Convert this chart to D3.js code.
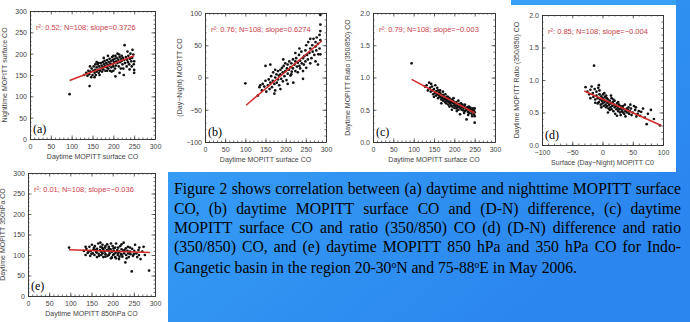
<!DOCTYPE html>
<html>
<head>
<meta charset="utf-8">
<script src="https://cdn.jsdelivr.net/npm/d3@7"></script>
<style>
  html, body { margin: 0; padding: 0; background: #fff; }
  svg { display: block; }
</style>
</head>
<body>
<script>
// --- Data ---
const ptsA = [[95,105],[143,124],[130,150],[135,155],[138,148],[140,160],[142,152],[145,158],[147,145],[148,165],
  [150,150],[152,160],[153,170],[155,155],[156,162],[158,150],[160,168],[160,158],[162,175],[163,162],
  [165,155],[166,170],[168,160],[170,178],[170,165],[172,172],[173,158],[175,180],[175,168],[176,163],
  [178,175],[179,183],[180,170],[181,160],[183,178],[184,168],[185,185],[186,174],[188,165],[189,180],
  [190,172],[191,188],[192,160],[193,177],[195,183],[195,168],[197,192],[198,175],[199,185],[200,170],
  [200,195],[202,180],[203,188],[204,165],[205,195],[205,147],[207,182],[208,190],[210,178],[210,200],
  [212,186],[213,170],[215,192],[216,180],[218,165],[219,188],[220,183],[222,175],[223,190],[225,150],
  [226,185],[227,220],[228,178],[230,192],[232,170],[233,186],[235,180],[236,195],[238,175],[240,188],
  [241,200],[243,182],[245,190],[246,209],[248,198],[249,175],[250,182],[250,162],[250,155],[144,170],
  [157,175],[167,150],[177,190],[187,195],[196,158],[206,172],[214,198],[224,165],[234,205],[244,170],
  [155,145],[165,178],[185,160],[220,195],[239,163],[160,180],[200,160],[215,155]];
const ptsB = [[100,-9],[131,-28],[135,-15],[137,-12],[141,-20],[143,-10],[147,-14],[150,-5],[150,18],[152,-22],
  [156,-12],[158,-3],[160,-18],[162,-8],[164,2],[166,-15],[168,-5],[169,8],[172,-10],[174,0],
  [174,-20],[177,5],[178,-8],[181,10],[181,-3],[183,3],[184,-12],[187,12],[187,5],[189,-2],
  [191,15],[193,8],[193,-6],[195,18],[197,2],[199,10],[199,22],[202,-4],[203,14],[205,6],
  [205,20],[208,12],[209,25],[212,3],[212,16],[214,22],[215,9],[218,28],[218,14],[219,-8],
  [222,20],[224,10],[224,25],[226,30],[228,17],[230,23],[230,8],[233,35],[234,18],[236,26],
  [236,14],[239,40],[240,22],[243,30],[243,-2],[245,20],[246,33],[249,25],[249,42],[251,15],
  [253,35],[255,28],[256,55],[259,38],[261,22],[261,45],[264,30],[266,50],[267,40],[269,60],
  [271,35],[274,48],[274,55],[276,42],[277,62],[280,52],[281,36],[284,45],[284,66],[286,97],
  [286,82],[286,72],[286,58],[286,36],[162,20],[280,20],[187,-18],[205,-10],[224,38],[243,10],
  [261,60],[274,25],[174,12],[194,28],[214,5],[234,45],[251,50],[172,-25]];
const ptsC = [[95,1.22],[128,0.86],[132,0.88],[135,0.80],[138,0.92],[140,0.84],[142,0.78],[145,0.86],[147,0.80],[148,0.74],
  [150,0.82],[152,0.76],[153,0.88],[155,0.72],[156,0.79],[158,0.74],[160,0.80],[160,0.68],[162,0.72],[163,0.77],
  [165,0.70],[166,0.75],[168,0.66],[170,0.72],[170,0.68],[172,0.64],[173,0.73],[175,0.66],[175,0.70],[177,0.62],
  [178,0.68],[180,0.65],[180,0.60],[182,0.70],[183,0.63],[185,0.66],[185,0.58],[187,0.62],[188,0.68],[190,0.60],
  [190,0.64],[192,0.57],[193,0.62],[195,0.66],[195,0.55],[197,0.60],[198,0.63],[200,0.57],[200,0.53],[202,0.60],
  [203,0.56],[205,0.62],[205,0.52],[207,0.57],[208,0.54],[210,0.59],[210,0.50],[212,0.55],[213,0.58],[214,0.43],
  [215,0.52],[217,0.56],[218,0.50],[220,0.54],[220,0.58],[222,0.49],[223,0.53],[225,0.56],[226,0.48],[228,0.52],
  [230,0.35],[230,0.50],[232,0.54],[233,0.47],[235,0.52],[236,0.45],[238,0.50],[240,0.48],[240,0.53],[242,0.44],
  [243,0.50],[245,0.47],[246,0.52],[248,0.43],[248,0.49],[250,0.30],[250,0.40],[250,0.46],[250,0.52],[150,0.70],
  [165,0.80],[178,0.74],[188,0.55],[198,0.68],[206,0.48],[216,0.60],[226,0.58],[236,0.55],[244,0.40],[158,0.84],
  [172,0.78],[184,0.70],[194,0.50],[210,0.64],[224,0.45],[234,0.42],[143,0.90],[168,0.60]];
const ptsD = [[-14,1.22],[-28,0.89],[-25,0.82],[-22,0.78],[-20,0.85],[-18,0.90],[-16,0.80],[-15,0.74],[-13,0.86],[-12,0.70],
  [-10,0.82],[-10,0.76],[-8,0.72],[-7,0.88],[-6,0.66],[-5,0.78],[-4,0.70],[-3,0.62],[-2,0.75],[-1,0.68],
  [0,0.72],[0,0.64],[1,0.78],[2,0.60],[2,0.70],[3,0.66],[4,0.74],[5,0.62],[5,0.68],[6,0.58],
  [7,0.72],[8,0.65],[8,0.60],[9,0.70],[10,0.56],[10,0.66],[11,0.62],[12,0.68],[13,0.58],[14,0.64],
  [15,0.55],[15,0.72],[16,0.60],[17,0.66],[18,0.52],[19,0.62],[20,0.58],[20,0.68],[21,0.48],[22,0.60],
  [23,0.55],[24,0.64],[25,0.57],[26,0.52],[27,0.62],[28,0.55],[29,0.50],[30,0.60],[31,0.56],[32,0.52],
  [33,0.58],[34,0.50],[35,0.55],[36,0.48],[37,0.62],[38,0.52],[40,0.56],[41,0.50],[42,0.54],[44,0.48],
  [45,0.52],[47,0.56],[48,0.46],[50,0.50],[52,0.60],[54,0.54],[55,0.58],[58,0.48],[60,0.52],[62,0.45],
  [64,0.51],[67,0.56],[70,0.42],[73,0.32],[75,0.48],[80,0.54],[85,0.40],[95,0.30],[-5,0.84],[3,0.80],
  [-8,0.64],[6,0.76],[12,0.54],[18,0.70],[26,0.66],[34,0.60],[43,0.58],[-2,0.58],[9,0.50],[24,0.45],
  [-20,0.72],[14,0.76],[30,0.46],[56,0.44],[-12,0.65],[38,0.44],[-6,0.92],[46,0.62]];
const ptsE = [[97,118],[132,110],[136,100],[138,115],[141,105],[145,120],[147,98],[148,110],[151,125],[153,104],
  [155,114],[157,100],[158,122],[161,108],[163,95],[163,115],[166,128],[167,103],[170,112],[171,120],
  [173,100],[173,108],[176,125],[177,115],[178,95],[181,108],[182,118],[183,102],[186,112],[187,126],
  [188,98],[190,110],[191,120],[193,104],[195,114],[196,92],[198,108],[200,122],[201,100],[202,116],
  [203,110],[206,95],[207,106],[208,128],[211,112],[212,100],[213,118],[215,90],[216,108],[218,122],
  [220,102],[221,114],[223,96],[225,110],[226,130],[227,104],[230,82],[231,116],[232,100],[235,110],
  [236,120],[238,95],[241,108],[242,102],[245,60],[246,115],[248,98],[251,110],[253,125],[256,104],
  [258,95],[261,112],[263,118],[266,90],[270,108],[273,120],[276,100],[286,62],[136,120],[143,108],
  [156,118],[168,98],[176,104],[183,122],[191,100],[198,94],[206,118],[213,104],[221,126],[228,112],
  [233,92],[241,118],[159,112],[171,130],[183,96],[196,128],[208,92],[221,100],[178,112],[203,102],
  [191,116],[216,96],[150,103],[162,106],[175,118],[237,104],[250,102],[262,100]];

// regression line end points
const fitA = [[95,137],[250,195]];
const fitB = [[102,-43],[290,57]];
const fitC = [[95,0.97],[250,0.45]];
const fitD = [[-30,0.83],[97,0.30]];
const fitE = [[97,113],[288,106]];

const notes = ['r²: 0.52; N=108; slope=0.3726', 'r²: 0.76; N=108; slope=0.6274',
  'r²: 0.79; N=108; slope=−0.003', 'r²: 0.85; N=108; slope=−0.004', 'r²: 0.01; N=108; slope=−0.036'];
const tags = ['(a)', '(b)', '(c)', '(d)', '(e)'];
const xTitles = ['Daytime MOPITT surface CO', 'Daytime MOPITT surface CO', 'Daytime MOPITT surface CO',
  'Surface (Day−Night) MOPITT C0', 'Daytime MOPITT 850hPa CO'];
const yTitles = ['Nighttime MOPITT surface CO', '(Day−Night) MOPITT CO', 'Daytime MOPITT Ratio (350/850) CO',
  'Daytime MOPITT Ratio (350/850) CO', 'Daytime MOPITT 350hPa CO'];

const coTicks = [0, 50, 100, 150, 200, 250, 300];
const diffTicks = [-100, -50, 0, 50, 100];
const ratioTicks = [0, 0.5, 1.0, 1.5, 2.0];

const captionLines = [
  'Figure 2 shows correlation between (a) daytime and nighttime MOPITT surface',
  'CO, (b) daytime MOPITT surface CO and (D-N) difference, (c) daytime',
  'MOPITT surface CO and ratio (350/850) CO (d) (D-N) difference and ratio',
  '(350/850) CO, and (e) daytime MOPITT 850 hPa and 350 hPa CO for Indo-'
];
const captionLast = [['Gangetic basin in the region 20-30', ''], ['o', 'sup'], ['N and 75-88', ''],
  ['o', 'sup'], ['E in May 2006.', '']];

// --- Page ---
const W = 690, H = 322;
const svg = d3.select('body').append('svg').attr('width', W).attr('height', H);

const grad = svg.append('defs').append('linearGradient')
  .attr('id', 'bg').attr('x1', 0).attr('y1', 0).attr('x2', 1).attr('y2', 0.6);
grad.append('stop').attr('offset', '0%').attr('stop-color', '#3cabf8');
grad.append('stop').attr('offset', '100%').attr('stop-color', '#2b86ef');

svg.append('rect').attr('width', W).attr('height', H).attr('fill', 'url(#bg)');
svg.append('rect').attr('x', 0).attr('y', 0).attr('width', 676).attr('height', 172).attr('fill', '#fff');
svg.append('rect').attr('x', 511).attr('y', 0).attr('width', 165).attr('height', 5).attr('fill', '#35a0f5');
svg.append('rect').attr('x', 0).attr('y', 172).attr('width', 168).attr('height', 150).attr('fill', '#fff');

// --- Panels ---
const sans = 'Liberation Sans, Arial, sans-serif';
const minor = (a, b, s) => d3.range(a, b + s / 2, s);

const panels = [
  { box: [30, 155, 11, 139], xd: [0, 300], yd: [0, 300], xt: coTicks, yt: coTicks, xm: 10, ym: 10, yf: d3.format('d'), xf: d3.format('d'), pts: ptsA, fit: fitA },
  { box: [205, 326, 13, 142], xd: [0, 300], yd: [-100, 100], xt: coTicks, yt: diffTicks, xm: 10, ym: 10, yf: d3.format('d'), xf: d3.format('d'), pts: ptsB, fit: fitB },
  { box: [373, 495, 13, 142], xd: [0, 300], yd: [0, 2], xt: coTicks, yt: ratioTicks, xm: 10, ym: 0.1, yf: d3.format('.1f'), xf: d3.format('d'), pts: ptsC, fit: fitC },
  { box: [542, 663, 15, 145], xd: [-100, 100], yd: [0, 2], xt: diffTicks, yt: ratioTicks, xm: 10, ym: 0.1, yf: d3.format('.1f'), xf: d3.format('d'), pts: ptsD, fit: fitD },
  { box: [28, 155, 173, 296], xd: [0, 300], yd: [0, 300], xt: coTicks, yt: coTicks, xm: 10, ym: 10, yf: d3.format('d'), xf: d3.format('d'), pts: ptsE, fit: fitE }
];

panels.forEach((p, i) => {
  const [x0, x1, y0, y1] = p.box;
  const x = d3.scaleLinear().domain(p.xd).range([x0, x1]);
  const y = d3.scaleLinear().domain(p.yd).range([y1, y0]);
  const g = svg.append('g');

  const xMinor = minor(p.xd[0], p.xd[1], p.xm);
  const yMinor = minor(p.yd[0], p.yd[1], p.ym);

  // minor ticks on all four sides
  g.append('g').attr('transform', `translate(0,${y1})`).call(d3.axisBottom(x).tickValues(xMinor).tickSize(-1.5).tickSizeOuter(0).tickFormat(''));
  g.append('g').attr('transform', `translate(0,${y0})`).call(d3.axisTop(x).tickValues(xMinor).tickSize(-1.5).tickSizeOuter(0).tickFormat(''));
  g.append('g').attr('transform', `translate(${x0},0)`).call(d3.axisLeft(y).tickValues(yMinor).tickSize(-1.5).tickSizeOuter(0).tickFormat(''));
  g.append('g').attr('transform', `translate(${x1},0)`).call(d3.axisRight(y).tickValues(yMinor).tickSize(-1.5).tickSizeOuter(0).tickFormat(''));

  // major ticks
  g.append('g').attr('transform', `translate(0,${y1})`)
    .call(d3.axisBottom(x).tickValues(p.xt).tickSize(-3.5).tickSizeOuter(0).tickPadding(5).tickFormat(p.xf));
  g.append('g').attr('transform', `translate(0,${y0})`).call(d3.axisTop(x).tickValues(p.xt).tickSize(-3.5).tickSizeOuter(0).tickFormat(''));
  const ya = g.append('g').attr('transform', `translate(${x0},0)`)
    .call(d3.axisLeft(y).tickValues(p.yt).tickSize(-3.5).tickSizeOuter(0).tickPadding(3).tickFormat(p.yf));
  g.append('g').attr('transform', `translate(${x1},0)`).call(d3.axisRight(y).tickValues(p.yt).tickSize(-3.5).tickSizeOuter(0).tickFormat(''));

  g.selectAll('path.domain').attr('stroke', '#333').attr('stroke-width', 0.8);
  g.selectAll('.tick line').attr('stroke', '#333').attr('stroke-width', 0.7);
  g.selectAll('.tick text').attr('fill', '#444').style('font-family', sans).style('font-size', '7px');
  ya.selectAll('.tick text').attr('dy', '0.35em');

  // axis titles
  g.append('text').attr('x', (x0 + x1) / 2).attr('y', y1 + 19.5)
    .attr('text-anchor', 'middle').attr('fill', '#444')
    .style('font-family', sans).style('font-size', '7px').text(xTitles[i]);
  g.append('text').attr('transform', `translate(${x0 - 23},${(y0 + y1) / 2}) rotate(-90)`)
    .attr('text-anchor', 'middle').attr('fill', '#444')
    .style('font-family', sans).style('font-size', '7px').text(yTitles[i]);

  // points
  g.selectAll('circle').data(p.pts).enter().append('circle')
    .attr('cx', d => x(d[0])).attr('cy', d => y(d[1]))
    .attr('r', 1.35).attr('fill', '#111');

  // fit line
  g.append('path').datum(p.fit)
    .attr('d', d3.line().x(d => x(d[0])).y(d => y(d[1])))
    .attr('stroke', '#d42a2a').attr('stroke-width', 1.5).attr('fill', 'none');

  // annotation and tag
  g.append('text').attr('x', x0 + 6).attr('y', y0 + 18.5)
    .attr('fill', '#c9404a').style('font-family', sans).style('font-size', '7.5px').text(notes[i]);
  g.append('text').attr('x', x0 + 3).attr('y', y1 - 6)
    .attr('fill', '#000').style('font-family', 'Liberation Serif, Times New Roman, serif').style('font-size', '12px').text(tags[i]);
});

// --- Caption ---
const serif = 'Liberation Serif, Times New Roman, serif';
const capFont = 15.7;
const capX0 = 174, capX1 = 681;
const capBase = [194, 213.5, 232.5, 252, 272.5];

const measure = svg.append('text').style('font-family', serif).style('font-size', capFont + 'px');
const wordWidth = w => { measure.text(w); return measure.node().getComputedTextLength(); };

captionLines.forEach((ln, i) => {
  const words = ln.split(' ');
  const widths = words.map(wordWidth);
  const gap = (capX1 - capX0 - d3.sum(widths)) / (words.length - 1);
  let cx = capX0;
  words.forEach((w, k) => {
    svg.append('text').attr('x', cx).attr('y', capBase[i])
      .attr('fill', '#000').style('font-family', serif).style('font-size', capFont + 'px').text(w);
    cx += widths[k] + gap;
  });
});
measure.remove();

const last = svg.append('text').attr('x', capX0).attr('y', capBase[4])
  .attr('fill', '#000').style('font-family', serif).style('font-size', capFont + 'px');
captionLast.forEach(([s, kind], k) => {
  const t = last.append('tspan').text(s);
  if (kind === 'sup') t.attr('dy', -5).style('font-size', '9.5px');
  else if (k > 0) t.attr('dy', 5);
});
</script>
</body>
</html>
